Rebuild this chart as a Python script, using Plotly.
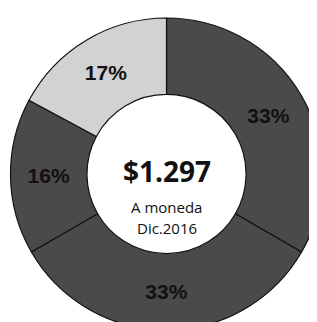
import plotly.graph_objects as go

labels = ["A", "B", "C", "D"]
values = [33, 33, 16, 17]
text_labels = ["33%", "33%", "16%", "17%"]
colors = ["#4a4a4a", "#4a4a4a", "#4a4a4a", "#d2d2d2"]
center_value = "$1.297"
center_sub = ["A moneda", "Dic.2016"]

fig = go.Figure(go.Pie(
    labels=labels, values=values, text=text_labels,
    textinfo="text", textposition="inside", insidetextorientation="horizontal",
    hole=0.51, sort=False, direction="clockwise", rotation=0,
    marker=dict(colors=colors, line=dict(color="#111111", width=1.2)),
    textfont=dict(family="Liberation Sans", size=21, color="#111111"),
    showlegend=False, hoverinfo="skip",
    domain=dict(x=[0, 1], y=[0, 1]),
))
fig.update_traces(texttemplate="<b>%{text}</b>")
fig.add_annotation(x=0.5, y=0.510, xref="paper", yref="paper", text="<b>" + center_value + "</b>",
                   yanchor="middle", showarrow=False, font=dict(family="Open Sans", size=28, color="#111111"))
fig.add_annotation(x=0.5, y=0.394, xref="paper", yref="paper", text=center_sub[0],
                   yanchor="middle", showarrow=False, font=dict(family="Open Sans", size=15, color="#111111"))
fig.add_annotation(x=0.5, y=0.327, xref="paper", yref="paper", text=center_sub[1],
                   yanchor="middle", showarrow=False, font=dict(family="Open Sans", size=15, color="#111111"))
fig.update_layout(width=317, height=322, margin=dict(l=0, r=0, t=10, b=0),
                  paper_bgcolor="white", plot_bgcolor="white")
fig.write_html("out.html")
